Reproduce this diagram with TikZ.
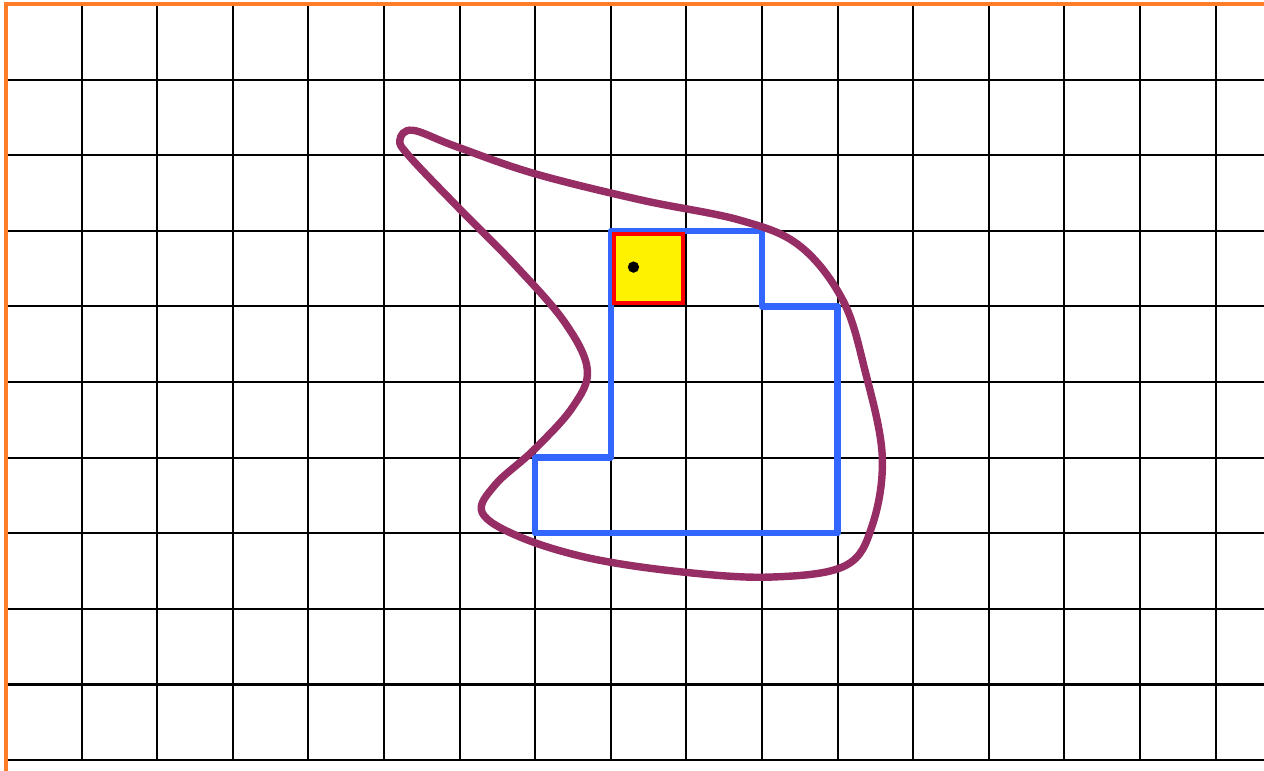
\documentclass[tikz,border=0pt]{standalone}
\begin{document}
\begin{tikzpicture}[
  gridline/.style={black, line width=0.8pt},
  axisline/.style={draw={rgb,255:red,255;green,125;blue,40}, line width=1.2pt},
  region/.style={draw={rgb,255:red,51;green,102;blue,255}, line width=2.4pt, line join=round},
  blob/.style={draw={rgb,255:red,150;green,45;blue,100}, line width=2.8pt},
  cellbox/.style={draw=red, fill=yellow, line width=1.5pt}
]
\useasboundingbox (-0.079,-0.132) rectangle (16.64,10.053);
\clip (-0.079,-0.132) rectangle (16.64,10.053);
% grid
\foreach \x in {1,...,16} \draw[gridline] (\x,0) -- (\x,10);
\foreach \y in {0,...,9} \draw[gridline] (0,\y) -- (16.7,\y);
% axes
\draw[axisline] (0,-0.2) -- (0,10) -- (16.7,10);
% region
\draw[region] (8,7) -- (10,7) -- (10,6) -- (11,6) -- (11,3) -- (7,3) -- (7,4) -- (8,4) -- cycle;
% blob
\draw[blob] plot[smooth cycle, tension=0.6] coordinates {
  (5.21,8.20) (5.38,8.33) (5.94,8.12) (6.98,7.76) (8.39,7.41) (9.71,7.14) (10.50,6.80)
  (11.07,6.08) (11.36,5.16) (11.59,4.03) (11.46,3.11) (11.10,2.57) (10.11,2.42)
  (8.92,2.49) (7.72,2.67) (6.80,2.95) (6.30,3.27) (6.47,3.64) (6.98,4.10)
  (7.49,4.66) (7.69,5.16) (7.39,5.79) (6.73,6.55) (6.01,7.28) (5.34,7.98)};
% cell
\node[cellbox, minimum size=0.92cm, inner sep=0pt] (cell) at (8.5,6.5) {};
\fill[black] (8.3,6.52) circle (0.075) coordinate (pt);
\end{tikzpicture}
\end{document}
